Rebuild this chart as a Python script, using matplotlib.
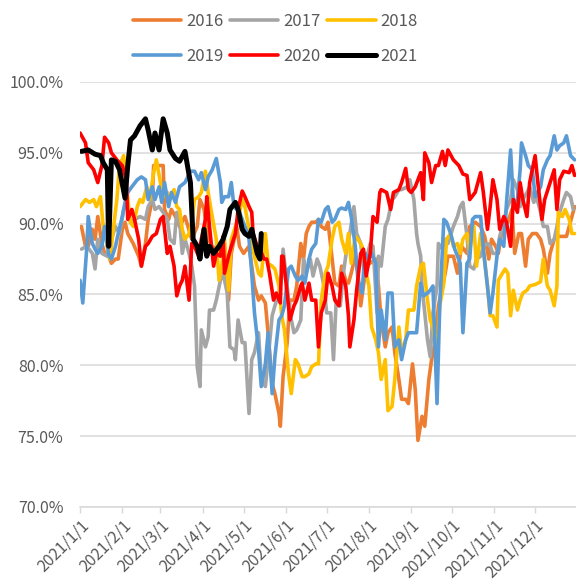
import pandas as pd
import matplotlib
matplotlib.use("Agg")
import matplotlib.pyplot as plt
from matplotlib.ticker import FuncFormatter

plt.rcParams['font.family'] = ['Noto Sans CJK SC', 'DejaVu Sans']

# data: day offset from 2021-01-01 and ratio (%)
years = ['2016', '2017', '2018', '2019', '2020', '2021']
colors = ['#ED7D31', '#A5A5A5', '#FFC000', '#5B9BD5', '#FF0000', '#000000']

days_2016 = [1, 4, 6, 9, 11, 13, 16, 18, 21, 23, 26, 28, 31, 33, 35, 39, 43, 45, 48, 50, 53, 54, 58, 61, 62, 65, 67, 70, 73,
             77, 82, 86, 88, 91, 94, 98, 102, 105, 109, 111, 115, 117, 120, 124, 126, 128, 131, 133, 136, 138, 141, 143, 146, 147,
             149, 152, 154, 157, 159, 162, 164, 166, 168, 170, 173, 175, 177, 180, 182, 185, 187, 190, 192, 195, 197, 199, 202, 204, 206, 208, 210,
             217, 219, 221, 224, 226, 229, 231, 234, 236, 239, 241, 244, 246, 248, 251, 253, 256, 258, 261, 263, 266, 268, 270, 274, 277, 280, 284, 286, 290, 294,
             297, 300, 302, 305, 307, 310, 312, 314, 317, 319, 322, 324, 327, 329, 332, 335, 338, 340, 343, 345, 348, 350, 354, 357, 361, 363]
vals_2016 = [89.8, 88.4, 88.4, 89.6, 88.9, 90.5, 88.6, 87.9, 87.7, 87.2, 87.5, 87.5, 89.6, 90.1, 89.3, 88.6, 87.7, 87.0, 88.6, 90.3, 91.7, 94.1, 94.1, 94.1, 91.0, 90.3, 91.0, 90.5, 89.8,
             90.5, 88.9, 89.8, 91.7, 91.0, 88.9, 88.2, 88.6, 87.5, 84.6, 87.9, 89.8, 88.4, 87.9, 88.4, 87.0, 85.6, 84.6, 84.9, 84.4, 82.3, 78.7, 78.0, 76.6, 75.7,
             79.2, 81.6, 84.6, 84.6, 85.6, 88.6, 87.5, 89.3, 89.8, 90.1, 90.1, 90.3, 89.8, 89.6, 90.1, 87.5, 85.8, 85.6, 87.0, 86.0, 85.8, 86.5, 87.7, 86.5, 84.2, 85.6, 87.0,
             87.5, 85.6, 83.2, 81.3, 82.3, 82.7, 80.9, 79.0, 77.6, 77.6, 77.3, 80.1, 78.3, 74.7, 76.4, 75.7, 79.0, 80.4, 81.8, 84.2, 85.6, 86.5, 87.7, 87.7, 86.5, 88.4, 87.9, 89.8, 90.1, 89.8,
             89.1, 87.5, 88.9, 88.4, 87.9, 89.8, 90.5, 90.1, 91.0, 87.9, 89.3, 89.3, 87.0, 88.9, 89.3, 89.3, 88.9, 88.2, 86.5, 87.9, 88.9, 89.1, 89.1, 89.1, 90.5, 91.2]

days_2017 = [1, 5, 9, 11, 13, 16, 20, 23, 26, 29, 32, 34, 37, 40, 44, 48, 50, 53, 55, 58, 61, 64, 66, 69, 71, 73,
             75, 77, 80, 82, 84, 86, 88, 89, 92, 94, 95, 98, 100, 103, 105, 108, 110, 113, 114, 116, 119, 121, 124, 126, 128, 131, 133, 136, 138, 141, 143, 146,
             148, 149, 152, 154, 157, 159, 162, 164, 166, 169, 171, 174, 176, 179, 181, 184, 186, 188, 191, 193, 196, 198, 201, 203, 206, 208, 210, 213, 215, 218,
             219, 221, 224, 226, 229, 231, 234, 236, 240, 242, 245, 247, 248, 250, 251, 252, 253, 255, 257, 259, 262, 263, 266, 268, 270, 274, 277, 279, 281, 284, 286, 289, 291, 294,
             296, 299, 301, 303, 306, 308, 311, 313, 316, 318, 321, 323, 325, 328, 330, 333, 335, 338, 340, 343, 345, 348, 350, 352, 355, 357, 360, 362]
vals_2017 = [88.2, 88.4, 87.9, 86.8, 88.9, 87.9, 87.7, 88.9, 89.8, 89.3, 91.0, 91.5, 90.1, 90.3, 90.5, 90.3, 91.2, 91.7, 91.0, 91.2, 90.8, 90.3, 88.9, 88.6, 90.8, 90.3,
             87.9, 88.9, 87.9, 87.0, 85.6, 79.9, 78.5, 82.5, 81.3, 82.0, 83.9, 83.9, 84.6, 86.0, 86.5, 85.1, 81.3, 81.1, 80.4, 83.2, 81.6, 81.6, 76.6, 80.4, 80.9, 82.3, 79.0, 78.5, 80.4, 83.5, 84.2, 85.1,
             86.3, 88.2, 85.6, 83.7, 82.3, 82.5, 83.2, 87.5, 86.5, 87.5, 86.3, 87.5, 87.0, 85.6, 83.7, 83.7, 80.4, 84.6, 84.2, 86.3, 88.4, 89.3, 91.2, 89.3, 88.6, 87.0, 87.5, 88.6, 88.4, 83.7,
             87.7, 87.0, 89.8, 90.3, 91.7, 91.9, 92.4, 92.4, 92.6, 93.1, 91.7, 89.3, 88.6, 87.7, 85.6, 84.6, 83.7, 81.8, 80.6, 83.7, 85.6, 88.6, 88.2, 88.9, 88.6, 89.8, 90.5, 91.2, 91.5, 89.1, 87.0, 86.8, 87.5, 87.7,
             88.4, 88.6, 88.4, 87.9, 87.9, 89.1, 90.1, 91.0, 91.7, 93.1, 92.4, 91.2, 91.7, 92.2, 92.6, 91.5, 91.9, 90.8, 89.8, 89.8, 88.6, 88.9, 89.8, 90.8, 91.7, 92.2, 91.9, 91.0]

days_2018 = [0, 4, 7, 10, 12, 15, 17, 20, 22, 24, 27, 29, 32, 34, 37, 39, 42, 44, 46, 49, 51, 54, 56, 59, 61, 64, 66, 69, 71, 73,
             75, 77, 80, 82, 84, 87, 89, 92, 94, 97, 100, 102, 104, 106, 109, 111, 114, 116, 119, 121, 124, 126, 128, 131, 133, 136, 138, 141, 143, 146,
             148, 150, 153, 155, 158, 160, 163, 165, 168, 170, 173, 175, 177, 180, 182, 185, 187, 190, 192, 195, 197, 199, 202, 204, 207, 209, 212, 214, 217, 219,
             221, 224, 226, 229, 231, 234, 236, 239, 241, 245, 247, 250, 252, 255, 257, 259, 262, 264, 267, 269, 272, 274, 277, 279, 281, 284, 286, 289, 291, 294,
             296, 299, 301, 303, 306, 307, 310, 312, 314, 316, 318, 321, 323, 325, 328, 330, 334, 338, 340, 343, 345, 348, 350, 351, 354, 356, 359, 361, 363]
vals_2018 = [91.2, 91.7, 91.5, 91.7, 91.2, 91.9, 89.8, 88.4, 87.5, 89.3, 91.7, 94.1, 94.8, 92.6, 90.1, 89.8, 91.2, 91.7, 91.5, 92.6, 91.7, 93.6, 94.5, 92.9, 91.9, 92.2, 91.7, 92.4, 91.2, 91.0,
             89.6, 88.9, 89.3, 90.1, 91.7, 91.9, 92.2, 93.7, 92.2, 90.5, 88.9, 86.0, 87.0, 88.9, 85.3, 88.9, 89.8, 90.3, 91.7, 91.2, 89.6, 88.6, 87.7, 86.5, 86.3, 89.3, 87.2, 87.0, 86.8, 85.6,
             83.5, 82.5, 79.4, 78.0, 80.4, 80.1, 79.2, 79.2, 79.4, 79.9, 80.1, 80.1, 84.6, 86.5, 87.0, 88.9, 89.8, 90.1, 88.9, 87.9, 89.3, 87.2, 89.1, 88.9, 88.4, 87.0, 85.6, 82.7, 81.8, 80.9,
             79.0, 80.4, 76.8, 77.1, 79.0, 82.7, 80.9, 81.8, 83.9, 83.9, 85.6, 87.0, 87.2, 84.6, 83.2, 82.7, 80.9, 84.2, 85.8, 88.9, 89.3, 88.4, 88.6, 87.9, 88.9, 89.3, 88.2, 89.8, 87.0, 89.3,
             88.2, 85.6, 83.5, 83.5, 82.7, 86.0, 86.5, 86.8, 86.5, 83.5, 85.3, 83.9, 84.6, 85.1, 85.3, 85.6, 85.7, 85.9, 87.5, 85.6, 85.3, 84.2, 85.6, 90.8, 90.5, 91.0, 90.3, 89.3, 89.3]

days_2019 = [0, 2, 5, 6, 9, 11, 13, 16, 18, 21, 23, 26, 28, 31, 33, 35, 38, 42, 45, 48, 50, 53, 55, 58, 60, 62, 65, 67, 70, 73,
             77, 81, 84, 87, 89, 92, 94, 97, 100, 103, 104, 106, 109, 111, 113, 115, 117, 121, 124, 126, 128, 131, 133, 136, 138, 141, 143, 146,
             148, 150, 153, 155, 158, 160, 163, 165, 168, 170, 173, 175, 177, 180, 182, 185, 187, 190, 192, 195, 197, 199, 202, 204, 207, 209, 212, 214, 217,
             219, 221, 224, 226, 229, 231, 234, 236, 239, 241, 244, 247, 250, 252, 255, 257, 259, 262, 264, 267, 269, 272, 275, 279, 281, 284, 286, 288, 290, 294,
             296, 299, 301, 303, 306, 308, 311, 313, 316, 318, 321, 323, 324, 327, 329, 332, 334, 338, 340, 343, 345, 348, 350, 352, 355, 357, 360, 363]
vals_2019 = [86.0, 84.4, 88.4, 90.5, 88.6, 88.2, 87.9, 88.4, 89.8, 87.8, 87.5, 88.4, 89.3, 90.5, 91.5, 92.2, 92.6, 93.1, 93.3, 93.1, 91.7, 92.6, 91.7, 92.6, 91.5, 92.9, 91.2, 92.2, 91.5, 92.6,
             92.9, 93.7, 93.7, 93.1, 93.6, 92.4, 93.3, 93.8, 94.6, 92.9, 91.5, 91.9, 91.9, 92.9, 91.2, 91.0, 90.8, 89.8, 88.9, 86.5, 83.7, 81.1, 78.5, 80.1, 82.3, 78.0, 80.6, 83.2,
             83.5, 84.2, 86.8, 87.0, 86.3, 86.0, 86.3, 85.8, 87.5, 88.2, 88.6, 90.3, 90.1, 91.0, 91.2, 90.1, 90.3, 91.0, 91.1, 91.0, 91.5, 90.5, 88.4, 86.0, 85.1, 87.9, 87.5, 87.9, 87.2,
             81.3, 83.9, 81.8, 85.1, 85.1, 81.3, 81.8, 80.4, 81.8, 82.3, 82.3, 82.3, 85.8, 84.9, 85.1, 85.3, 85.6, 77.3, 84.2, 90.3, 90.1, 89.3, 88.2, 87.2, 82.3, 87.2, 87.5, 90.3, 90.5, 90.5,
             88.2, 85.6, 83.7, 85.1, 87.7, 88.9, 88.4, 91.5, 95.2, 91.5, 91.7, 93.8, 95.7, 94.8, 94.1, 93.8, 91.9, 92.6, 93.8, 94.5, 94.8, 96.2, 95.2, 95.5, 95.7, 96.2, 94.8, 94.5]

days_2020 = [0, 4, 6, 10, 13, 16, 18, 21, 23, 27, 31, 34, 35, 38, 40, 43, 45, 48, 50, 53, 56, 59, 61, 64, 66, 69, 71, 73,
             75, 77, 80, 82, 84, 87, 89, 92, 93, 95, 98, 100, 103, 105, 106, 109, 111, 114, 116, 119, 121, 124, 126, 127, 130, 132, 135, 137, 139, 142, 144, 147,
             148, 149, 152, 154, 157, 159, 162, 163, 165, 168, 170, 173, 175, 177, 180, 182, 185, 187, 190, 192, 195, 197, 198, 201, 203, 206, 208, 210, 213, 215, 218, 220,
             221, 225, 228, 230, 234, 236, 239, 241, 243, 246, 250, 252, 253, 256, 258, 261, 263, 266, 268, 270, 274, 278, 281, 284, 286, 290, 294,
             296, 299, 301, 303, 306, 308, 311, 313, 316, 318, 321, 323, 325, 328, 330, 334, 336, 339, 341, 344, 348, 350, 352, 355, 359, 361, 363]
vals_2020 = [96.4, 95.7, 94.3, 93.8, 92.9, 94.1, 96.1, 95.7, 95.0, 94.5, 94.1, 93.1, 90.3, 91.0, 90.3, 88.9, 87.0, 88.4, 88.6, 89.1, 89.3, 90.3, 90.5, 87.9, 88.4, 87.0, 84.9, 85.6,
             86.0, 87.0, 84.6, 88.6, 88.4, 87.7, 88.9, 90.3, 91.9, 89.8, 87.0, 87.9, 87.7, 89.1, 86.5, 87.7, 88.4, 89.3, 91.0, 92.3, 91.9, 91.2, 90.8, 89.3, 88.4, 88.2, 87.5, 87.5, 86.5, 84.6, 85.1, 84.4,
             87.7, 87.7, 85.1, 83.2, 84.2, 84.6, 85.6, 85.8, 84.6, 85.8, 84.6, 84.6, 81.3, 83.7, 84.6, 86.5, 85.6, 84.6, 84.2, 86.5, 85.6, 83.5, 81.3, 83.2, 85.3, 87.9, 88.2, 86.3, 87.9, 90.5, 90.1, 92.2,
             92.4, 92.2, 91.0, 92.2, 92.4, 92.9, 93.9, 92.4, 92.2, 92.6, 93.6, 91.7, 95.0, 94.3, 92.9, 94.1, 94.1, 95.1, 94.1, 95.2, 94.5, 94.1, 93.5, 93.4, 91.7, 92.2, 93.6,
             92.2, 89.6, 91.2, 93.1, 91.7, 89.6, 90.5, 90.1, 88.4, 91.7, 90.8, 92.9, 91.7, 90.5, 92.9, 94.8, 92.9, 90.3, 91.7, 92.6, 93.8, 91.0, 93.1, 93.7, 93.6, 94.1, 93.4]

days_2021 = [1, 6, 11, 15, 17, 20, 21, 23, 26, 29, 33, 35, 37, 40, 44, 48, 50, 53, 55, 58, 61, 64, 66, 70, 73,
             77, 81, 83, 86, 88, 91, 93, 95, 98, 102, 105, 108, 110, 114, 116, 119, 121, 124, 126, 130, 132, 133]
vals_2021 = [95.1, 95.2, 94.9, 94.8, 94.3, 93.8, 88.4, 94.5, 94.4, 93.8, 91.8, 94.1, 95.9, 96.2, 96.9, 97.4, 96.6, 95.2, 96.4, 95.2, 97.4, 96.4, 95.2, 94.6, 94.4,
             95.1, 92.9, 88.9, 88.4, 87.5, 89.6, 87.7, 88.4, 87.9, 88.4, 88.9, 89.8, 91.0, 91.5, 91.0, 89.6, 89.3, 89.1, 89.6, 87.9, 87.5, 89.3]

all_days = [days_2016, days_2017, days_2018, days_2019, days_2020, days_2021]
all_vals = [vals_2016, vals_2017, vals_2018, vals_2019, vals_2020, vals_2021]

month_labels = ['2021/%d/1' % m for m in range(1, 13)]

base = pd.Timestamp('2021-01-01')

fig = plt.figure(figsize=(5.76, 5.88), dpi=100)
ax = fig.add_axes([0.139, 0.1378, 0.861, 0.7228])

handles = []
for yr, c, d, v in zip(years, colors, all_days, all_vals):
    x = base + pd.to_timedelta(d, unit='D')
    lw = 3.6 if yr == '2021' else 2.6
    h, = ax.plot(x, v, color=c, lw=lw, label=yr,
                 solid_joinstyle='round', solid_capstyle='round')
    handles.append(h)

# axes
ax.set_ylim(70, 100)
ax.set_yticks([70, 75, 80, 85, 90, 95, 100])
ax.yaxis.set_major_formatter(FuncFormatter(lambda v, p: '%.1f%%' % v))
ax.set_xlim(base, base + pd.Timedelta(days=364))
ticks = pd.date_range('2021-01-01', periods=12, freq='MS')
ax.set_xticks(ticks)
ax.set_xticklabels(month_labels, rotation=45, ha='right', va='top',
                   rotation_mode='anchor')

ax.grid(axis='y', color='#D9D9D9', lw=1.1)
ax.set_axisbelow(True)
for s in ['top', 'right', 'left']:
    ax.spines[s].set_visible(False)
ax.spines['bottom'].set_color('#D9D9D9')
ax.spines['bottom'].set_linewidth(1.1)
ax.tick_params(axis='y', length=0, pad=12, labelsize=11.5, labelcolor='#595959')
ax.tick_params(axis='x', length=4, width=1, color='#D9D9D9', pad=3,
               labelsize=11.5, labelcolor='#595959')

# legend filled row by row: 2016 2017 2018 / 2019 2020 2021
order = [0, 3, 1, 4, 2, 5]
leg = fig.legend(handles=[handles[i] for i in order], loc='center',
                 bbox_to_anchor=(0.478, 0.934), ncol=3, frameon=False,
                 fontsize=12, handlelength=2.9, handletextpad=0.3,
                 columnspacing=0.4, labelspacing=1.05)
for t in leg.get_texts():
    t.set_color('#595959')

fig.savefig('out.png', dpi=100)
